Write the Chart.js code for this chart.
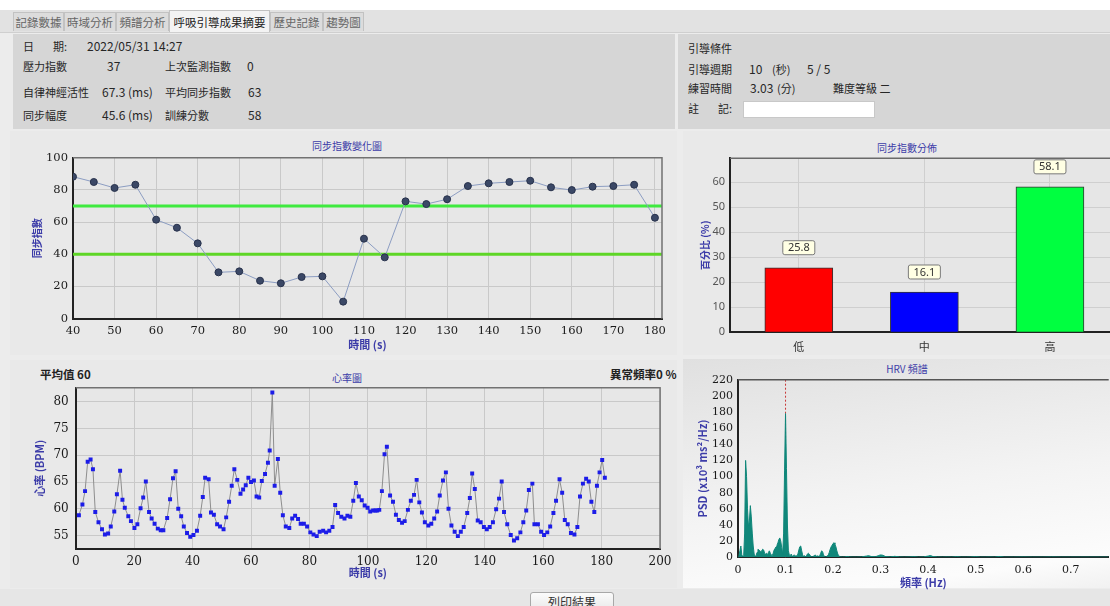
<!DOCTYPE html>
<html><head><meta charset="utf-8">
<script src="https://cdn.jsdelivr.net/npm/chart.js@4.4.1/dist/chart.umd.min.js"></script>
<style>
html,body{margin:0;padding:0;}
body{width:1110px;height:606px;overflow:hidden;position:relative;background:#ececec;font-family:"Noto Sans CJK TC","Noto Sans",sans-serif;color:#222;}
.a{position:absolute;white-space:nowrap;}
.t{position:absolute;white-space:nowrap;font-size:11px;line-height:16px;color:#262626;}
.ct{position:absolute;white-space:nowrap;font-size:10px;line-height:12px;color:#3c3ca8;transform:translateX(-50%);}
.tab{position:absolute;top:12px;height:19px;line-height:19px;font-size:11.5px;color:#666;text-align:center;background:#dcdcdc;border:1px solid #c2c2c2;border-bottom:none;box-sizing:border-box;}
.tab.on{background:#f3f3f3;color:#222;top:10px;height:22px;line-height:22px;}
canvas{position:absolute;}
</style></head>
<body>
<div class="a" style="left:0;top:0;width:1110px;height:10px;background:#fff"></div>
<div class="a" style="left:0;top:10px;width:1110px;height:22px;background:#e2e2e2;border-bottom:1px solid #cfcfcf"></div>
<div class="tab" style="left:13px;width:51px">記錄數據</div>
<div class="tab" style="left:64px;width:52px">時域分析</div>
<div class="tab" style="left:116px;width:53px">頻譜分析</div>
<div class="tab on" style="left:169px;width:101px">呼吸引導成果摘要</div>
<div class="tab" style="left:270px;width:53px">歷史記錄</div>
<div class="tab" style="left:323px;width:41px">趨勢圖</div>

<div class="a" style="left:13px;top:34px;width:662px;height:95px;background:#d6d6d6"></div>
<div class="a" style="left:678px;top:34px;width:432px;height:95px;background:#d6d6d6"></div>

<div class="t" style="left:23px;top:38px">日</div><div class="t" style="left:53px;top:38px">期:</div><div class="t" style="left:87px;top:38px;font-size:12px">2022/05/31 14:27</div>
<div class="t" style="left:23px;top:58px">壓力指數</div><div class="t" style="left:107px;top:58px;font-size:12px">37</div><div class="t" style="left:165px;top:58px">上次監測指數</div><div class="t" style="left:247px;top:58px;font-size:12px">0</div>
<div class="t" style="left:23px;top:84px">自律神經活性</div><div class="t" style="left:102px;top:84px;font-size:12px">67.3 (ms)</div><div class="t" style="left:165px;top:84px">平均同步指數</div><div class="t" style="left:248px;top:84px;font-size:12px">63</div>
<div class="t" style="left:23px;top:107px">同步幅度</div><div class="t" style="left:102px;top:107px;font-size:12px">45.6 (ms)</div><div class="t" style="left:165px;top:107px">訓練分數</div><div class="t" style="left:248px;top:107px;font-size:12px">58</div>

<div class="t" style="left:688px;top:40px">引導條件</div>
<div class="t" style="left:688px;top:61px">引導週期</div><div class="t" style="left:749px;top:61px;font-size:12px">10</div><div class="t" style="left:772px;top:61px">(秒)</div><div class="t" style="left:807px;top:61px;font-size:12px">5 / 5</div>
<div class="t" style="left:688px;top:80px">練習時間</div><div class="t" style="left:750px;top:80px;font-size:12px">3.03</div><div class="t" style="left:777px;top:80px">(分)</div><div class="t" style="left:833px;top:80px">難度等級 二</div>
<div class="t" style="left:688px;top:100px">註</div><div class="t" style="left:718px;top:100px">記:</div>
<div class="a" style="left:743px;top:101px;width:132px;height:17px;background:#fff;border:1px solid #c8c8c8;box-sizing:border-box"></div>

<div class="a" style="left:10px;top:131px;width:667px;height:224px;background:#e9e9e9"></div>
<div class="a" style="left:683px;top:131px;width:427px;height:224px;background:#e9e9e9"></div>
<div class="a" style="left:10px;top:360px;width:667px;height:228px;background:#e9e9e9"></div>
<div class="a" style="left:683px;top:359px;width:427px;height:229px;background:linear-gradient(172deg,#e0e0e0 0%,#f3f3f3 55%,#fcfcfc 88%,#f1f1f1 100%)"></div>

<div class="ct" style="left:347px;top:140px">同步指數變化圖</div>
<div class="ct" style="left:907px;top:142px">同步指數分佈</div>
<div class="ct" style="left:347px;top:372px">心率圖</div>
<div class="ct" style="left:907px;top:363px">HRV 頻譜</div>

<div class="a" style="left:40px;top:366px;font-size:11.5px;font-weight:bold;line-height:16px;color:#222">平均值 60</div>
<div class="a" style="left:610px;top:366px;font-size:11.5px;font-weight:bold;line-height:16px;color:#222">異常頻率0 %</div>

<div class="a" style="left:0;top:589px;width:1110px;height:17px;background:#e6e6e6"></div>
<div class="a" style="left:530px;top:592px;width:84px;height:20px;line-height:18px;text-align:center;font-size:12px;color:#333;background:linear-gradient(#fbfbfb,#e8e8e8);border:1px solid #a8a8a8;border-radius:3px;box-sizing:border-box">列印結果</div>

<canvas id="cSync" width="667" height="224" style="left:10px;top:131px"></canvas>
<canvas id="cDist" width="440" height="224" style="left:683px;top:131px"></canvas>
<canvas id="cHR" width="667" height="228" style="left:10px;top:360px"></canvas>
<canvas id="cPSD" width="440" height="231" style="left:683px;top:359px"></canvas>

<script>
// ---------- DATA ----------
const syncTime = [40,45,50,55,60,65,70,75,80,85,90,95,100,105,110,115,120,125,130,135,140,145,150,155,160,165,170,175,180];
const syncValue = [88.2,84.9,81.2,83.2,61.5,56.5,46.8,28.8,29.4,23.6,22.0,25.9,26.3,10.6,49.7,38.1,72.9,71.2,74.2,82.4,84.1,84.9,85.7,81.6,79.9,82.0,82.4,83.2,62.7];
const syncHigh = 70;
const syncLow = 40;

const distCategories = ['低','中','高'];
const distValues = [25.8,16.1,58.1];
const distColors = ['#ff0000','#0000ff','#00ff40'];

const hrTime = [1.1,2.3,3.2,4.1,5.1,5.9,6.7,7.8,9.0,10.0,11.1,12.0,13.2,14.1,15.2,16.0,16.8,18.0,18.9,20.1,21.1,22.2,23.1,24.0,25.1,26.0,27.0,28.1,29.1,30.0,31.3,32.3,33.3,34.2,35.1,36.1,37.0,38.1,39.2,40.3,41.5,42.6,43.5,44.3,45.5,46.3,47.3,48.4,49.4,50.6,51.5,52.5,53.4,54.3,55.3,56.4,57.3,58.2,59.1,60.0,61.0,61.9,62.8,63.7,64.8,65.8,66.4,67.3,68.1,69.2,70.0,70.9,71.9,73.1,74.1,75.1,76.1,77.0,78.1,79.2,80.3,81.4,82.5,83.5,84.7,85.7,86.8,87.9,88.8,89.8,90.9,92.0,93.0,94.0,95.0,95.9,96.9,97.9,98.9,99.9,100.8,101.8,102.6,103.2,103.9,104.8,105.7,106.5,107.6,108.6,109.6,110.6,111.7,112.6,113.7,114.7,115.8,116.7,117.6,118.5,119.5,120.7,121.7,122.7,123.7,124.6,125.7,126.7,127.6,128.6,129.7,130.8,131.8,132.8,134.0,134.9,135.7,136.6,137.6,138.6,139.7,140.7,141.7,142.8,143.9,144.9,145.8,146.6,147.7,148.9,150.0,151.1,152.2,153.2,154.2,155.1,156.3,157.0,158.2,159.3,160.3,161.4,162.4,163.5,164.4,165.6,166.5,167.4,168.4,169.5,170.7,171.7,172.6,173.6,174.7,175.6,176.5,177.5,178.4,179.3,180.2,181.1];
const hrValue = [58.8,60.8,63.3,68.8,69.2,67.4,59.4,57.5,56.2,55.2,55.4,56.7,59.5,62.7,67.1,61.7,60.2,58.6,57.7,56.4,57.1,60.1,62.1,65.1,59.4,58.2,57.2,56.3,56.0,56.0,58.3,61.8,65.7,67.0,60.0,58.6,56.7,55.5,54.8,55.1,55.9,58.7,62.2,65.8,65.5,59.3,58.9,57.1,56.7,56.2,58.4,61.3,64.3,67.4,65.4,62.8,63.6,64.4,65.8,65.0,65.3,62.3,62.1,65.2,66.5,68.6,70.9,81.7,64.3,69.3,63.0,58.8,56.7,56.4,58.2,58.7,58.1,57.2,57.2,56.7,55.6,55.2,54.9,55.7,55.9,55.6,55.9,56.6,60.7,59.2,58.5,58.2,58.7,58.5,61.5,64.8,62.3,61.6,60.6,60.2,59.5,59.7,59.7,59.7,59.8,63.3,70.2,71.6,62.5,61.3,58.9,57.9,57.4,57.7,59.8,61.5,62.6,65.4,61.2,59.3,57.5,56.9,57.2,58.2,59.5,62.5,65.3,66.8,60.0,56.9,55.7,54.9,55.7,56.6,59.2,62.0,66.6,63.7,57.8,57.5,56.6,56.2,56.6,57.5,59.9,61.9,65.1,59.4,57.1,55.1,54.1,54.5,55.6,57.5,59.7,63.5,64.7,57.1,57.1,55.7,55.1,55.6,56.7,59.2,61.5,65.5,63.0,57.9,57.1,55.5,55.2,56.6,62.3,64.7,65.6,65.1,61.3,59.4,64.3,66.8,69.1,65.8];

const psdFreq = [0,0.002,0.004,0.006,0.008,0.010,0.012,0.014,0.016,0.018,0.020,0.022,0.024,0.026,0.028,0.030,0.032,0.034,0.036,0.038,0.040,0.042,0.044,0.046,0.048,0.050,0.052,0.054,0.056,0.058,0.060,0.062,0.064,0.066,0.068,0.070,0.072,0.074,0.076,0.078,0.080,0.082,0.084,0.086,0.088,0.090,0.092,0.094,0.096,0.098,0.100,0.102,0.104,0.106,0.108,0.110,0.112,0.114,0.116,0.118,0.120,0.122,0.124,0.126,0.128,0.130,0.132,0.134,0.136,0.138,0.140,0.142,0.144,0.146,0.148,0.150,0.152,0.154,0.156,0.158,0.160,0.162,0.164,0.166,0.168,0.170,0.172,0.174,0.176,0.178,0.180,0.182,0.184,0.186,0.188,0.190,0.192,0.194,0.196,0.198,0.200,0.202,0.204,0.206,0.208,0.210,0.212,0.214,0.216,0.220,0.225,0.230,0.235,0.240,0.250,0.260,0.270,0.275,0.280,0.290,0.295,0.300,0.305,0.310,0.320,0.330,0.340,0.350,0.360,0.370,0.380,0.390,0.400,0.405,0.410,0.420,0.430,0.440,0.450,0.460,0.470,0.480,0.490,0.500,0.510,0.520,0.530,0.540,0.550,0.560,0.580,0.600,0.620,0.640,0.660,0.680,0.700,0.720,0.740,0.760,0.780];
const psdValue = [0,2,8,14,3,1,2,30,120,100,60,38,45,64,50,30,14,4,1,2,6,10,9,8,7,8,10,9,5,4,5,3,6,8,5,3,2,5,9,11,13,15,18,22,24,20,12,4,30,108,178,110,40,8,3,2,4,1,2,3,2,1,2,4,9,13,14,8,3,1,2,1,2,4,5,4,2,1,0.5,1,2,3,2,1,2,1,2,5,8,7,3,1,0.5,1,2,3,6,10,13,15,17,18,16,13,8,4,2,1,0.5,0.3,0.5,1,0.5,0.3,0.3,0.5,1.5,2,1,0.8,2,3,2.5,1,0.5,1.2,0.5,0.3,0.5,0.8,0.3,0.5,1.5,2.2,1,0.5,0.3,0.5,0.3,0.8,0.3,0.3,0.5,0.8,0.3,0.3,0.5,0.3,1,0.3,0.3,0.5,0.3,0.3,0.5,0.3,0.3,0.3,0.3,0.3,0.3];
const psdPeakFreq = 0.1;

// ---------- STYLE HELPERS ----------
const CJK = '"Noto Sans CJK TC","Noto Sans",sans-serif';
const SERIF = '"DejaVu Serif",serif';
const BLUE = '#3c3ca8';

const frame = {
  id:'frame',
  beforeDraw(chart, args, o){
    const {ctx, chartArea:a} = chart;
    if(o.bg){ctx.save();ctx.fillStyle=o.bg;ctx.fillRect(a.left,a.top,a.right-a.left,a.bottom-a.top);ctx.restore();}
  },
  afterDraw(chart, args, o){
    const {ctx, chartArea:a} = chart;
    ctx.save();ctx.strokeStyle=o.stroke||'#777';ctx.lineWidth=o.width||1.5;
    ctx.beginPath();ctx.moveTo(a.left,a.top);ctx.lineTo(a.right,a.top);
    if(o.right!==false) ctx.lineTo(a.right,a.bottom);
    ctx.stroke();ctx.restore();
  }
};
const hlines = {
  id:'hlines',
  beforeDatasetsDraw(chart, args, o){
    if(!o.lines) return;
    const {ctx, chartArea:a} = chart; const y = chart.scales.y;
    ctx.save();
    o.lines.forEach(l=>{const py=y.getPixelForValue(l.value);ctx.strokeStyle=l.color;ctx.lineWidth=l.width;ctx.beginPath();ctx.moveTo(a.left,py);ctx.lineTo(a.right,py);ctx.stroke();});
    ctx.restore();
  }
};
const vline = {
  id:'vline',
  beforeDatasetsDraw(chart, args, o){
    if(o.value===undefined) return;
    const {ctx, chartArea:a} = chart; const px = chart.scales.x.getPixelForValue(o.value);
    ctx.save();ctx.strokeStyle=o.color;ctx.lineWidth=1;ctx.setLineDash([2,2]);
    ctx.beginPath();ctx.moveTo(px,a.top);ctx.lineTo(px,a.bottom);ctx.stroke();ctx.restore();
  }
};
const barLabels = {
  id:'barLabels',
  afterDatasetsDraw(chart){
    const {ctx} = chart; const meta = chart.getDatasetMeta(0);
    ctx.save();ctx.font='11px "Noto Sans",sans-serif';ctx.textAlign='center';ctx.textBaseline='middle';
    meta.data.forEach((el,i)=>{
      const txt = distValues[i].toFixed(1);
      const cy = el.y - 20, w = 32, h = 14;
      ctx.fillStyle='#ffffe4';ctx.strokeStyle='#7a7a7a';ctx.lineWidth=1;
      ctx.beginPath();ctx.roundRect(el.x-w/2,cy-h/2,w,h,2);ctx.fill();ctx.stroke();
      ctx.fillStyle='#333';ctx.fillText(txt,el.x,cy+0.5);
    });
    ctx.restore();
  }
};

Chart.defaults.animation = false;
Chart.defaults.responsive = false;
Chart.defaults.plugins.legend.display = false;
Chart.defaults.plugins.tooltip.enabled = false;
Chart.defaults.plugins.title.display = false;

function axisTitle(text, pad, size){return {display:true,text,color:BLUE,font:{family:CJK,size:size||11,weight:'bold'},padding:pad};}

// ---------- CHART A: sync index ----------
new Chart(document.getElementById('cSync'),{
  type:'line',
  data:{datasets:[{data:syncTime.map((t,i)=>({x:t,y:syncValue[i]})),borderColor:'#8c9dc2',borderWidth:1,pointRadius:3.5,pointBackgroundColor:'#3b4866',pointBorderColor:'#28324c',pointBorderWidth:1,tension:0}]},
  options:{
    layout:{padding:{top:26.7,right:15,left:0,bottom:0}},
    plugins:{
      frame:{bg:'#e7e7e7',stroke:'#727272'},
      hlines:{lines:[{value:syncHigh,color:'#3fea3f',width:3},{value:syncLow,color:'#5ed626',width:3}]}
    },
    scales:{
      x:{type:'linear',min:40,max:181.7,ticks:{stepSize:10,includeBounds:false,autoSkip:false,padding:5,color:'#1a1a1a',font:{family:SERIF,size:11.5}},grid:{color:'#c9c9c9',drawTicks:false},border:{color:'#222',width:2},title:axisTitle('時間 (s)',{top:0,bottom:4}),afterFit:s=>{s.height=36.3;}},
      y:{min:0,max:100,ticks:{stepSize:20,autoSkip:false,padding:5,color:'#1a1a1a',font:{family:SERIF,size:11.5}},grid:{color:'#c9c9c9',drawTicks:false},border:{color:'#222',width:2},title:axisTitle('同步指數',{top:21,bottom:0},10),afterFit:s=>{s.width=63;}}
    }
  },
  plugins:[frame,hlines]
});

// ---------- CHART B: distribution ----------
new Chart(document.getElementById('cDist'),{
  type:'bar',
  data:{datasets:[{data:distValues.map((v,i)=>({x:i,y:v})),backgroundColor:distColors,borderColor:'#333',borderWidth:1,barThickness:68}]},
  options:{
    layout:{padding:{top:27.3,right:4,left:0,bottom:0}},
    plugins:{
      frame:{bg:'#e6e6e6',stroke:'#6a6a6a',right:false}
    },
    scales:{
      x:{type:'linear',offset:false,min:-0.548,max:2.55,ticks:{stepSize:1,includeBounds:false,padding:8,color:'#333',font:{family:CJK,size:11},callback:v=>distCategories[v]!==undefined?distCategories[v]:''},grid:{offset:false,color:'#cfcfcf',drawTicks:false},border:{color:'#222',width:2},afterFit:s=>{s.height=22.7;}},
      y:{min:0,max:69.5,ticks:{stepSize:10,includeBounds:false,autoSkip:false,padding:5,color:'#555',font:{family:'"Noto Sans",sans-serif',size:11}},grid:{color:'#cfcfcf',drawTicks:false},border:{color:'#222',width:2},title:axisTitle('百分比 (%)',{top:16,bottom:0},10),afterFit:s=>{s.width=47;}}
    }
  },
  plugins:[frame,barLabels]
});

// ---------- CHART C: heart rate ----------
new Chart(document.getElementById('cHR'),{
  type:'line',
  data:{datasets:[{data:hrTime.map((t,i)=>({x:t,y:hrValue[i]})),borderColor:'#8e8e8e',borderWidth:1,pointStyle:'rect',pointRadius:2.8,pointBackgroundColor:'#1c1ce8',pointBorderWidth:0,tension:0}]},
  options:{
    layout:{padding:{top:27.7,right:14.7,left:0,bottom:0}},
    plugins:{
      frame:{bg:'#e7e7e7',stroke:'#727272'}
    },
    scales:{
      x:{type:'linear',min:0,max:200,ticks:{stepSize:20,autoSkip:false,padding:5.5,color:'#1a1a1a',font:{family:SERIF,size:12}},grid:{color:'#c9c9c9',drawTicks:false},border:{color:'#222',width:2},title:axisTitle('時間 (s)',{top:0,bottom:8.4}),afterFit:s=>{s.height=39;}},
      y:{min:52.5,max:82.6,ticks:{stepSize:5,includeBounds:false,autoSkip:false,padding:7,color:'#1a1a1a',font:{family:SERIF,size:12}},grid:{color:'#c9c9c9',drawTicks:false},border:{color:'#222',width:2},title:axisTitle('心率 (BPM)',{top:23.4,bottom:0}),afterFit:s=>{s.width=65.7;}}
    }
  },
  plugins:[frame]
});

// ---------- CHART D: HRV spectrum ----------
new Chart(document.getElementById('cPSD'),{
  type:'line',
  data:{datasets:[{data:psdFreq.map((f,i)=>({x:f,y:psdValue[i]})),borderColor:'#10877a',backgroundColor:'#10877a',borderWidth:1,pointRadius:0,fill:'origin',tension:0}]},
  options:{
    layout:{padding:{top:20.7,right:14.3,left:0,bottom:0}},
    plugins:{
      frame:{stroke:'#555',right:false},
      vline:{value:psdPeakFreq,color:'#c83838'}
    },
    scales:{
      x:{type:'linear',min:0,max:0.78,ticks:{stepSize:0.1,includeBounds:false,autoSkip:false,padding:6,color:'#1a1a1a',font:{family:SERIF,size:11},callback:v=>v===0?'0':(Math.round(v*10)/10).toFixed(1)},grid:{color:'rgba(0,0,0,0)',drawTicks:false},border:{color:'#222',width:2},title:axisTitle('頻率 (Hz)',{top:0,bottom:1}),afterFit:s=>{s.height=32.7;}},
      y:{min:0,max:220,ticks:{stepSize:20,autoSkip:false,padding:5,color:'#1a1a1a',font:{family:SERIF,size:11}},grid:{color:'rgba(0,0,0,0)',drawTicks:false},border:{color:'#222',width:2},title:axisTitle('PSD (x10³ ms²/Hz)',{top:13.7,bottom:0}),afterFit:s=>{s.width=55;}}
    }
  },
  plugins:[frame,vline]
});
</script>
</body></html>
